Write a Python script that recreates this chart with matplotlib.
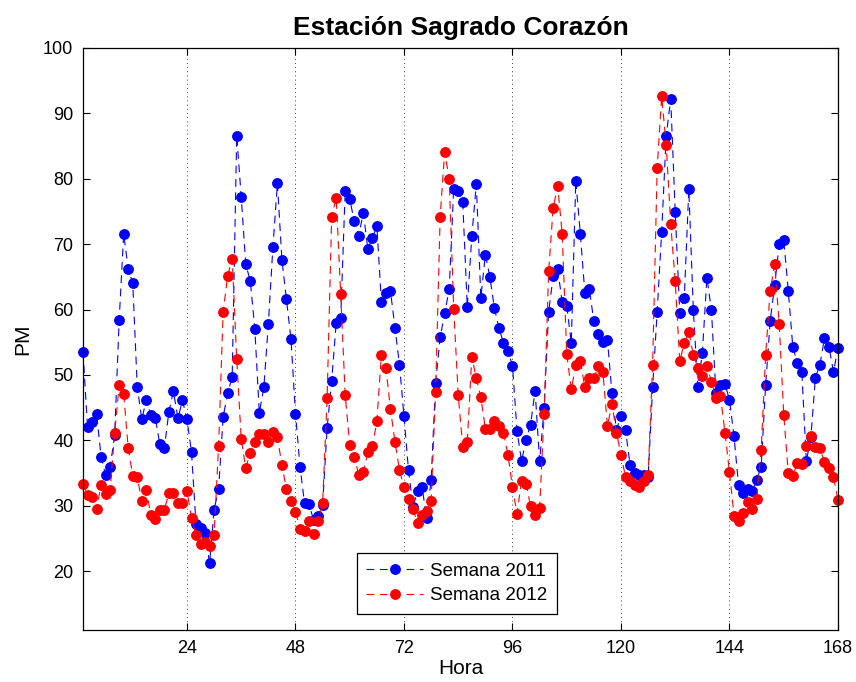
import numpy as np
import matplotlib
matplotlib.use('Agg')
import matplotlib.pyplot as plt

plt.rcParams['font.family'] = ['Liberation Sans', 'DejaVu Sans']

hora = np.arange(1, 169)

semana_2011 = [
    53.5, 42.1, 42.8, 44.1, 37.5, 34.7, 35.9, 40.8, 58.4, 71.6, 66.2, 64.1,
    48.2, 43.2, 46.2, 43.9, 43.4, 39.4, 38.8, 44.4, 47.5, 43.4, 46.1, 43.2,
    38.2, 27.2, 26.6, 25.9, 21.2, 29.4, 32.6, 43.6, 47.2, 49.7, 86.6, 77.2,
    66.9, 64.4, 57.1, 44.2, 48.1, 57.8, 69.5, 79.3, 67.6, 61.6, 55.5, 44.1,
    36.0, 30.4, 30.3, 27.8, 28.4, 30.1, 41.9, 49.1, 57.9, 58.7, 78.2, 76.9,
    73.5, 71.3, 74.8, 69.3, 70.9, 72.8, 61.2, 62.5, 62.9, 57.2, 51.6, 43.7,
    35.4, 29.8, 32.3, 32.9, 28.1, 33.9, 48.8, 55.8, 59.4, 63.1, 78.5, 78.1,
    76.4, 60.4, 71.2, 79.2, 61.8, 68.4, 65.0, 60.2, 57.2, 54.9, 53.7, 51.4,
    41.5, 36.8, 40.1, 42.4, 47.6, 36.8, 45.0, 59.7, 65.1, 66.2, 61.1, 60.6,
    54.9, 79.7, 71.6, 62.6, 63.1, 58.2, 56.3, 55.1, 55.4, 47.2, 41.6, 43.8,
    41.6, 36.3, 35.0, 34.7, 34.7, 34.4, 48.1, 59.7, 71.9, 86.6, 92.2, 74.9,
    59.4, 61.8, 78.4, 60.0, 48.1, 53.4, 64.9, 59.9, 47.2, 48.5, 48.6, 46.2,
    40.6, 33.2, 32.0, 32.6, 32.2, 34.0, 35.9, 48.5, 58.3, 63.8, 70.0, 70.6,
    62.9, 54.3, 51.8, 50.4, 36.8, 40.5, 49.6, 51.6, 55.6, 54.3, 50.5, 54.1,
]

semana_2012 = [
    33.4, 31.6, 31.4, 29.5, 33.2, 31.8, 32.4, 41.1, 48.4, 47.1, 38.8, 34.6,
    34.4, 30.7, 32.4, 28.6, 27.9, 29.4, 29.4, 31.9, 31.9, 30.4, 30.4, 32.3,
    28.1, 25.5, 24.1, 24.5, 23.8, 25.6, 39.2, 59.6, 65.2, 67.8, 52.5, 40.2,
    35.8, 38.1, 39.8, 40.9, 41.0, 39.7, 41.3, 40.5, 36.2, 32.6, 30.8, 29.1,
    26.5, 26.2, 27.6, 25.7, 27.6, 30.4, 46.5, 74.1, 77.1, 62.4, 46.9, 39.3,
    37.5, 34.7, 35.1, 38.2, 39.1, 42.9, 53.1, 51.1, 44.8, 39.8, 35.5, 32.8,
    31.0, 29.5, 27.3, 28.6, 29.2, 30.8, 47.4, 74.2, 84.1, 80.0, 60.1, 46.9,
    39.0, 39.7, 52.8, 49.5, 46.6, 41.8, 41.7, 42.9, 42.2, 41.2, 37.8, 32.8,
    28.8, 33.8, 33.4, 29.9, 28.6, 29.7, 44.1, 65.9, 75.6, 78.9, 71.5, 53.2,
    47.8, 51.5, 52.2, 48.1, 49.5, 49.5, 51.3, 50.4, 42.2, 45.6, 41.2, 37.8,
    34.4, 33.8, 33.2, 32.9, 33.8, 34.7, 51.6, 81.6, 92.6, 85.2, 73.1, 64.3,
    52.1, 54.9, 56.6, 53.1, 51.1, 49.8, 51.4, 49.0, 46.5, 46.8, 41.2, 35.1,
    28.5, 27.6, 28.9, 30.6, 29.5, 31.0, 38.5, 53.1, 62.9, 66.9, 57.8, 43.9,
    35.0, 34.5, 36.6, 36.4, 39.1, 40.7, 39.0, 38.8, 36.7, 35.7, 34.4, 30.9,
]

xticks = [24, 48, 72, 96, 120, 144, 168]
yticks = [20, 30, 40, 50, 60, 70, 80, 90, 100]

fig = plt.figure(figsize=(8.56, 6.82), dpi=100)
ax = fig.add_axes([83 / 856, 1 - 630 / 682, (838 - 83) / 856, (630 - 48) / 682])

estilo = dict(ls=(0, (7, 5)), lw=0.8, marker='o', markersize=6.8, clip_on=False)
ax.plot(hora, semana_2011, color='#0000ff', label='Semana 2011', **estilo)
ax.plot(hora, semana_2012, color='#ff0000', label='Semana 2012', **estilo)

ax.set_xlim(1, 168)
ax.set_ylim(11, 100)
ax.set_xticks(xticks)
ax.set_yticks(yticks)
ax.tick_params(direction='in', top=True, right=True, length=5, width=0.8, labelsize=13, pad=7)
ax.xaxis.grid(True, ls=(0, (1, 4)), color='black', lw=0.6)
for s in ax.spines.values():
    s.set_linewidth(0.9)

ax.set_title('Estación Sagrado Corazón', fontsize=19, fontweight='bold', pad=9)
ax.set_xlabel('Hora', fontsize=15, labelpad=2)
ax.set_ylabel('PM', fontsize=15, labelpad=8)

leg = ax.legend(loc='upper left', bbox_to_anchor=(357 / 856, 1 - 553 / 682),
                bbox_transform=fig.transFigure, fontsize=13.5, handlelength=3.0,
                fancybox=False, framealpha=1, edgecolor='black',
                borderaxespad=0, borderpad=0.5, labelspacing=0.4, handletextpad=0.4)
leg.get_frame().set_linewidth(0.9)

fig.savefig('out.png', dpi=100)
